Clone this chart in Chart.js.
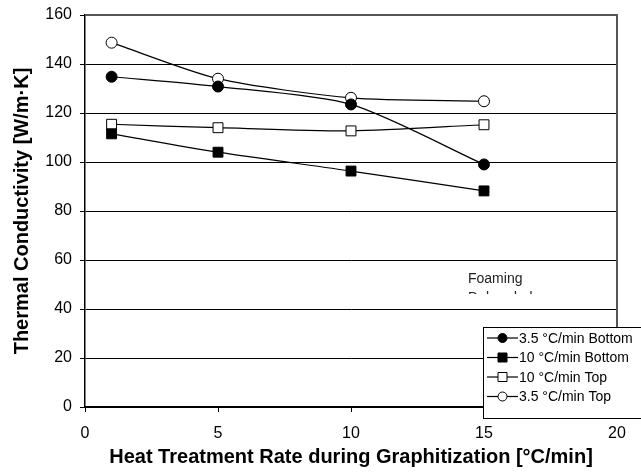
<!DOCTYPE html>
<html>
<head>
<meta charset="utf-8">
<script src="https://cdn.jsdelivr.net/npm/chart.js@4/dist/chart.umd.min.js"></script>
<style>
  html, body { margin: 0; padding: 0; background: #fff; }
  #wrap { width: 641px; height: 472px; }
</style>
</head>
<body>
<div id="wrap"><canvas id="chart" width="641" height="472"></canvas></div>
<script>
// heat treatment rate [°C/min]
var rates = [1, 5, 10, 15];
var bottom35 = [134.8, 130.8, 123.5, 99];
var bottom10 = [111.5, 104, 96.3, 88.2];
var top10 = [115.4, 114, 112.7, 115.2];
var top35 = [148.7, 134, 126.2, 124.8];
var seriesNames = ['3.5 °C/min Bottom', '10 °C/min Bottom', '10 °C/min Top', '3.5 °C/min Top'];
var yTicks = [0, 20, 40, 60, 80, 100, 120, 140, 160];
var xTicks = [0, 5, 10, 15, 20];

var FONT = '"Liberation Sans", Arial, sans-serif';

function pts(ys) {
  return rates.map(function(x, i) { return {x: x, y: ys[i]}; });
}

function series(label, ys, style, fill, r) {
  return {
    label: label,
    data: pts(ys),
    borderColor: '#000',
    borderWidth: 1.2,
    backgroundColor: fill,
    pointStyle: style,
    pointRadius: r,
    pointHoverRadius: r,
    pointBorderColor: '#000',
    pointBackgroundColor: fill,
    pointBorderWidth: 1,
    tension: 0.25,
    fill: false
  };
}

// frame (top + right) and the small legend box / annotation
var extras = {
  id: 'extras',
  afterDraw: function(chart) {
    var ctx = chart.ctx;
    var a = chart.chartArea;
    ctx.save();
    ctx.strokeStyle = '#555';
    ctx.lineWidth = 2;
    ctx.beginPath();
    ctx.moveTo(a.left, a.top);
    ctx.lineTo(a.right, a.top);
    ctx.lineTo(a.right, a.bottom);
    ctx.stroke();

    // annotation, second line cut off as in the source
    ctx.fillStyle = '#222';
    ctx.font = '14px ' + FONT;
    ctx.textBaseline = 'alphabetic';
    ctx.fillText('Foaming', 468, 283);
    ctx.save();
    ctx.beginPath();
    ctx.rect(460, 287, 80, 7);
    ctx.clip();
    ctx.fillText('Debonded', 468, 302);
    ctx.restore();

    // legend box
    var bx = 483, by = 327, bw = 160, bh = 91;
    ctx.fillStyle = '#fff';
    ctx.fillRect(bx, by, bw, bh);
    ctx.strokeStyle = '#000';
    ctx.lineWidth = 1;
    ctx.strokeRect(bx + 0.5, by + 0.5, bw, bh);
    ctx.font = '14px ' + FONT;
    ctx.textBaseline = 'middle';
    chart.data.datasets.forEach(function(ds, i) {
      var y = by + 11 + i * 19.5;
      ctx.strokeStyle = '#000';
      ctx.lineWidth = 1.2;
      ctx.beginPath();
      ctx.moveTo(bx + 4, y);
      ctx.lineTo(bx + 35, y);
      ctx.stroke();
      ctx.fillStyle = ds.pointBackgroundColor;
      ctx.lineWidth = 1;
      ctx.beginPath();
      if (ds.pointStyle === 'rect') {
        ctx.rect(bx + 15, y - 4.5, 9, 9);
      } else {
        ctx.arc(bx + 19.5, y, 4.5, 0, Math.PI * 2);
      }
      ctx.fill();
      ctx.stroke();
      ctx.fillStyle = '#000';
      ctx.fillText(ds.label, bx + 36, y + 1);
    });
    ctx.restore();
  }
};

var ctx = document.getElementById('chart').getContext('2d');
var chart = new Chart(ctx, {
  type: 'line',
  data: {
    datasets: [
      series(seriesNames[0], bottom35, 'circle', '#000', 5.5),
      series(seriesNames[1], bottom10, 'rect', '#000', 7),
      series(seriesNames[2], top10, 'rect', '#fff', 7),
      series(seriesNames[3], top35, 'circle', '#fff', 5.5)
    ]
  },
  options: {
    responsive: false,
    animation: false,
    layout: { padding: { top: 15, right: 24, left: 0, bottom: 0 } },
    plugins: {
      legend: { display: false },
      tooltip: { enabled: false }
    },
    scales: {
      x: {
        type: 'linear',
        min: 0,
        max: 20,
        afterBuildTicks: function(s) { s.ticks = xTicks.map(function(v) { return {value: v}; }); },
        afterFit: function(s) { s.height = 65; },
        grid: { drawOnChartArea: false, drawTicks: true, tickLength: 5, color: '#000' },
        border: { color: '#000', width: 1.5 },
        ticks: { color: '#000', font: { family: FONT, size: 16 }, padding: 12, maxRotation: 0 },
        title: {
          display: true,
          text: 'Heat Treatment Rate during Graphitization [°C/min]',
          color: '#000',
          font: { family: FONT, size: 20, weight: 'bold' },
          padding: { top: 0, bottom: 3 }
        }
      },
      y: {
        min: 0,
        max: 160,
        afterBuildTicks: function(s) { s.ticks = yTicks.map(function(v) { return {value: v}; }); },
        afterFit: function(s) { s.width = 85; s.paddingTop = 0; s.paddingBottom = 0; },
        grid: { color: '#000', lineWidth: 1, tickLength: 5 },
        border: { color: '#000', width: 1.5 },
        ticks: { color: '#000', font: { family: FONT, size: 16 }, padding: 8 },
        title: {
          display: true,
          text: 'Thermal Conductivity [W/m·K]',
          color: '#000',
          font: { family: FONT, size: 20, weight: 'bold' },
          padding: { top: 10, bottom: 0 }
        }
      }
    }
  },
  plugins: [extras]
});
</script>
</body>
</html>
